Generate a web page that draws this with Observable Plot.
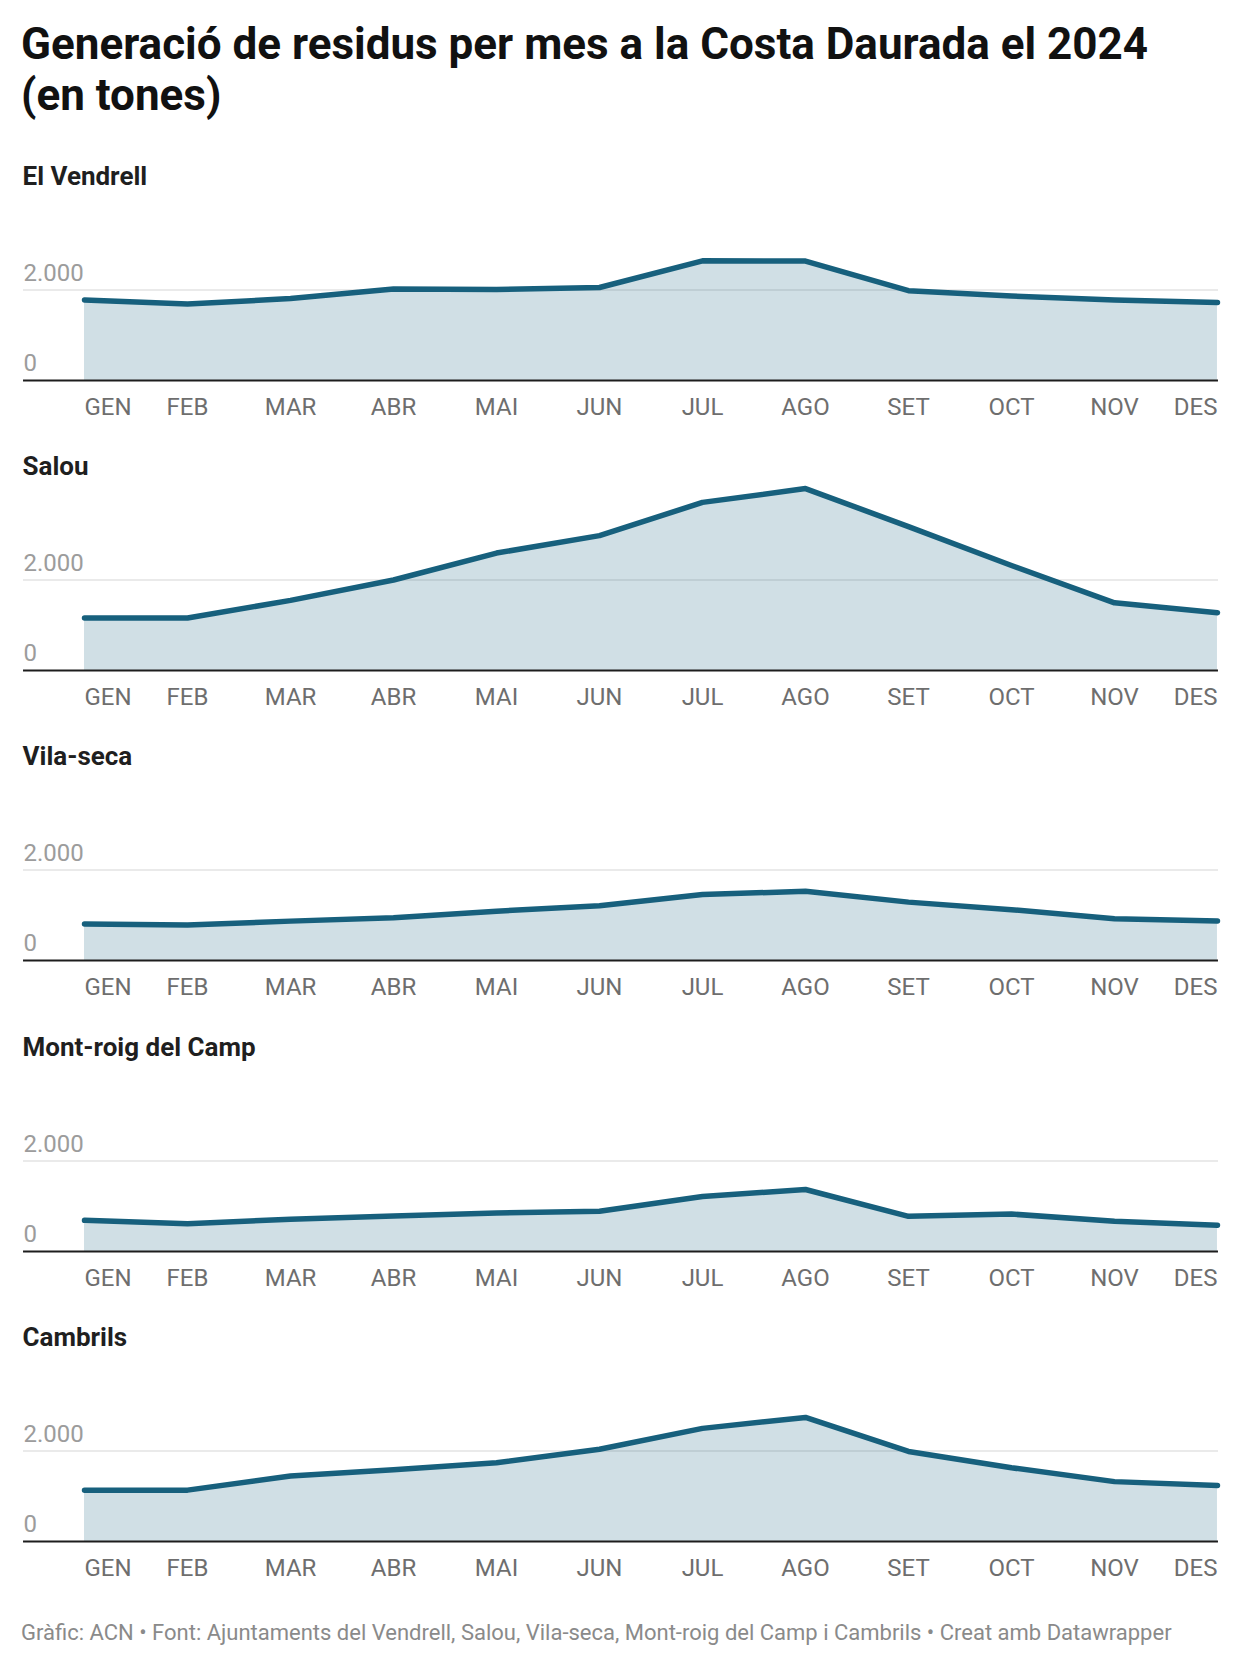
<!DOCTYPE html>
<html>
<head>
<meta charset="utf-8">
<script src="https://cdn.jsdelivr.net/npm/d3@7"></script>
<script src="https://cdn.jsdelivr.net/npm/@observablehq/plot@0.6"></script>
<style>
  body { margin: 0; background: #fff; font-family: Roboto, sans-serif; }
  #title { padding: 19px 0 0 21px; height: 121px; box-sizing: border-box; height: 140px; font-size: 44px; line-height: 51px; font-weight: 700; color: #111; }
  #charts svg { display: block; }
  #footer { margin: 30px 0 0 21px; font-size: 22px; line-height: 24px; color: #8a8a8a; }
</style>
</head>
<body>
<div id="title">Generació de residus per mes a la Costa Daurada el 2024<br>(en tones)</div>
<div id="charts"></div>
<div id="footer">Gràfic: ACN • Font: Ajuntaments del Vendrell, Salou, Vila-seca, Mont-roig del Camp i Cambrils • Creat amb Datawrapper</div>
<script>
const months = ["GEN", "FEB", "MAR", "ABR", "MAI", "JUN", "JUL", "AGO", "SET", "OCT", "NOV", "DES"];
const municipis = ["El Vendrell", "Salou", "Vila-seca", "Mont-roig del Camp", "Cambrils"];
const elVendrell = [1780, 1690, 1810, 2020, 2010, 2055, 2645, 2640, 1985, 1865, 1780, 1725];
const salou      = [1160, 1160, 1550, 2000, 2595, 2980, 3715, 4020, 3180, 2320, 1495, 1275];
const vilaSeca   = [808, 785, 870, 945, 1090, 1208, 1458, 1530, 1290, 1123, 923, 873];
const montRoig   = [688, 615, 715, 785, 850, 888, 1215, 1370, 777, 827, 670, 580];
const cambrils   = [1135, 1135, 1446, 1585, 1738, 2040, 2500, 2742, 1990, 1630, 1323, 1238];
const yTicks = [0, 2000];

const series = [elVendrell, salou, vilaSeca, montRoig, cambrils];
const fmt = d3.formatLocale({decimal: ",", thousands: ".", grouping: [3], currency: ["", "€"]}).format(",");

const W = 1240, H = 290.2, mt = 50, mb = 50.2;
const plotH = H - mt - mb;
const yMax = 2000 * plotH / 90.5;
const lineColor = "#17607d";

const container = document.getElementById("charts");
municipis.forEach((name, i) => {
  const data = months.map((m, j) => ({month: m, value: series[i][j]}));
  const chart = Plot.plot({
    width: W,
    height: H,
    marginTop: mt,
    marginBottom: mb,
    marginLeft: 23,
    marginRight: 22,
    x: {type: "point", domain: months, range: [83, 1218], padding: 0, axis: null},
    y: {domain: [0, yMax], axis: null},
    style: {fontFamily: "Roboto, sans-serif", background: "transparent", overflow: "visible"},
    marks: [
      Plot.ruleY([2000], {stroke: "#e3e3e3", strokeWidth: 1.5}),
      Plot.areaY(data, {x: "month", y: "value", fill: "#14607f", fillOpacity: 0.2}),
      Plot.ruleY([0], {stroke: "#1d1d1d", strokeWidth: 2}),
      Plot.lineY(data, {x: "month", y: "value", stroke: lineColor, strokeWidth: 5.5, strokeLinecap: "round", strokeLinejoin: "round"}),
      Plot.text(yTicks, {y: d => d, text: d => fmt(d), frameAnchor: "left", textAnchor: "start", lineAnchor: "bottom", dy: -9, fill: "#9c9c9c", fontSize: 24}),
      Plot.text(months.slice(0, 1), {x: d => d, text: d => d, frameAnchor: "bottom", textAnchor: "start", lineAnchor: "top", dy: 17, fill: "#6e6e6e", fontSize: 24}),
      Plot.text(months.slice(1, -1), {x: d => d, text: d => d, frameAnchor: "bottom", textAnchor: "middle", lineAnchor: "top", dy: 17, fill: "#6e6e6e", fontSize: 24}),
      Plot.text(months.slice(-1), {x: d => d, text: d => d, frameAnchor: "bottom", textAnchor: "end", lineAnchor: "top", dy: 17, fill: "#6e6e6e", fontSize: 24}),
      Plot.text([name], {text: d => d, frameAnchor: "top-left", textAnchor: "start", lineAnchor: "bottom", dx: -1, dy: -5, fill: "#1f1f1f", fontSize: 26, fontWeight: 700})
    ]
  });
  container.appendChild(chart);
});
</script>
</body>
</html>
